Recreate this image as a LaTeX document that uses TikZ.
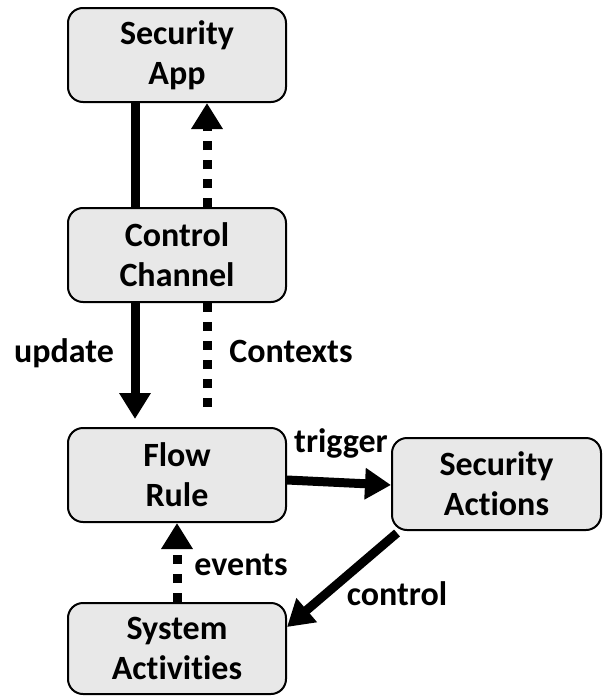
\documentclass[tikz,border=0pt]{standalone}
\usepackage{fontspec}
\setmainfont[Ligatures=NoCommon]{Carlito}
\usetikzlibrary{arrows.meta}
\begin{document}
\begin{tikzpicture}[x=1pt,y=-1pt,
  box/.style={draw=black,line width=2pt,fill=gray!18,rounded corners=15pt,
    minimum width=218pt,align=center,inner sep=0pt,
    font=\fontsize{34}{40}\selectfont\bfseries},
  lbl/.style={inner sep=0pt,anchor=base,font=\fontsize{34}{40}\selectfont\bfseries},
  flow/.style={line width=9pt},
  dots/.style={line width=9pt,dash pattern=on 9pt off 10pt},
  head/.style={-{Triangle[length=26pt,width=30pt]}}]
  \useasboundingbox (0,0) rectangle (603,696);

  % boxes
  \node[box,minimum height=94pt] (app) at (177,55) {Security\\App};
  \node[box,minimum height=94pt] (chan) at (177,255) {Control\\Channel};
  \node[box,minimum height=94pt] (rule) at (177,475) {Flow\\Rule};
  \node[box,minimum height=91pt] (sys) at (177,648.5) {System\\Activities};
  \node[box,minimum width=209pt,minimum height=92pt] (act) at (496.5,484) {Security\\Actions};

  % connector end points
  \coordinate (ctxend) at (207,410);

  % vertical links on the left column
  \draw[flow] ([xshift=-42pt]app.south) -- ([xshift=-42pt]chan.north);
  \draw[flow,head] ([xshift=-42pt]chan.south) -- ([xshift=-42pt,yshift=8pt]rule.north);
  \draw[dots,head] ([xshift=30pt]chan.north) -- ([xshift=30pt]app.south);
  \draw[dots] (chan.south -| ctxend) -- (ctxend);

  % links around the flow rule
  \draw[flow,head] (rule.east |- 0,480) -- (act.west |- 0,485);
  \draw[flow,head] (397,533) -- (sys.east |- 0,627);
  \draw[dots,head] (sys.north) -- (rule.south);

  % labels
  \node[lbl] (lupdate) at (64,362) {update};
  \node[lbl] (lctx) at (291,362) {Contexts};
  \node[lbl] (ltrig) at (341,452) {trigger};
  \node[lbl] (levents) at (241,575) {events};
  \node[lbl] (lctrl) at (397,605) {control};
\end{tikzpicture}
\end{document}
